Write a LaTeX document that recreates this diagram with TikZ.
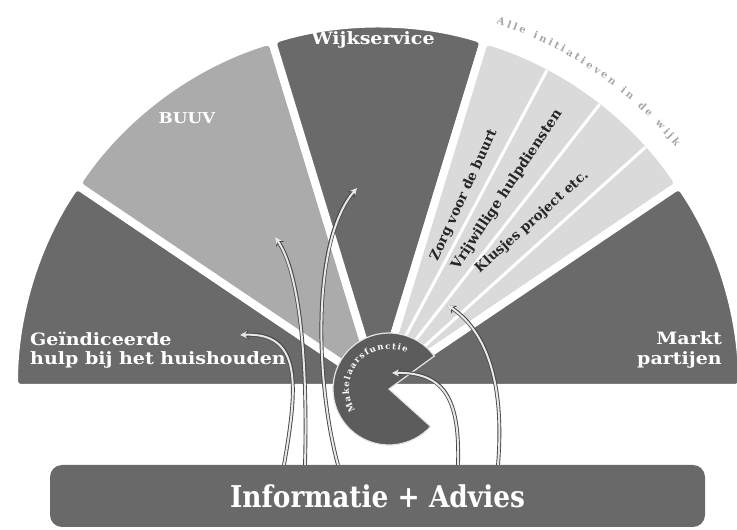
\documentclass[tikz,border=0pt]{standalone}
\usepackage{fontspec}
\setmainfont{DejaVu Serif}
\newfontfamily\heavy{DejaVu Serif}[FakeStretch=1.12]
\newfontfamily\narrow{DejaVu Serif}[FakeStretch=0.88]
\usetikzlibrary{arrows.meta,decorations.text}
\definecolor{darksec}{HTML}{6A6A6A}
\definecolor{midsec}{HTML}{ABABAB}
\definecolor{lightsec}{HTML}{DADADA}
\definecolor{circfill}{HTML}{5C5C5C}
\definecolor{barfill}{HTML}{696969}
\begin{document}
\begin{tikzpicture}[x=1pt,y=1pt,
  sector/.style={draw=white, line width=8pt, rounded corners=7pt, line join=round},
  lbl/.style={text=white, font=\heavy\bfseries\fontsize{17}{19.5}\selectfont, inner sep=0pt},
  striptext/.style={text=black!85, font=\bfseries\fontsize{13.5}{13.5}\selectfont, inner sep=0pt},
  flow/.style={draw=white!82!gray, line width=2pt, -{Stealth[length=7pt,width=7pt]},
    preaction={draw=gray!55!black, line width=3.8pt, -{Stealth[length=9pt,width=9pt]}}},
]
\useasboundingbox (0,0) rectangle (737,530);
\clip (0,0) rectangle (737,530);
\coordinate (C) at (378,142);
\def\R{364}
% sectors
\filldraw[sector, fill=darksec] (C) -- ++(146:\R) arc[start angle=146, end angle=180, radius=\R] -- cycle;
\filldraw[sector, fill=midsec] (C) -- ++(107:\R) arc[start angle=107, end angle=146, radius=\R] -- cycle;
\filldraw[sector, fill=darksec] (C) -- ++(73:\R) arc[start angle=73, end angle=107, radius=\R] -- cycle;
\filldraw[sector, fill=lightsec] (C) -- ++(34:\R) arc[start angle=34, end angle=73, radius=\R] -- cycle;
\filldraw[sector, fill=darksec] (C) -- ++(0:\R) arc[start angle=0, end angle=34, radius=\R] -- cycle;
\foreach \a in {42,52,62} \draw[white, line width=3pt] (C) -- ++(\a:\R-4);
% faint arc text
\path[decorate, decoration={text along path, text color=gray!70,
  text={|\bfseries\fontsize{10}{10}\selectfont|Alle initiatieven in de wijk}, text align={fit to path}}]
  ([shift={(72:383)}]C) arc[start angle=72, end angle=39, radius=383];
% labels
\node[lbl] (wijk) at (373,490) {Wijkservice};
\node[lbl, font=\heavy\bfseries\fontsize{15}{15}\selectfont] (buuv) at (187,412) {BUUV};
\node[lbl, anchor=west, align=left] (geind) at (30,180) {Geïndiceerde\\hulp bij het huishouden};
\node[lbl, anchor=east, align=right] (markt) at (722,180) {Markt\\partijen};
\node[striptext, rotate=65.5] (zorg) at (464,335) {Zorg voor de buurt};
\node[striptext, rotate=56.5, font=\bfseries\fontsize{14}{14}\selectfont] (vrijw) at (507,340) {Vrijwillige hulpdiensten};
\node[striptext, rotate=41.5] (klus) at (532,308) {Klusjes project etc.};
% makelaarsfunctie circle
\coordinate (mk) at (389,141);
\filldraw[fill=circfill, draw=white!80!gray, line width=1.2pt] (mk) -- ++(36:56) arc[start angle=36, end angle=318, radius=56] -- cycle;
\path[decorate, decoration={text along path, text color=white,
  text={|\bfseries\fontsize{8.5}{8.5}\selectfont|Makelaarsfunctie}, text align={fit to path}}]
  ([shift={(213:40)}]mk) arc[start angle=213, end angle=64, radius=40];
% bottom bar
\node[fill=barfill, rounded corners=12pt, minimum width=655pt, minimum height=62pt, inner sep=0pt,
  text=white, font=\narrow\bfseries\fontsize{30}{30}\selectfont] (info) at (377.5,34) {Informatie + Advies};
% arrows
\coordinate (a0) at (284,65); \coordinate (a1) at (240,195);
\coordinate (b0) at (305,65); \coordinate (b1) at (275,293);
\coordinate (c0) at (338,65); \coordinate (c1) at (357,342);
\coordinate (d0) at (458,65); \coordinate (d1) at (392,157);
\coordinate (e0) at (498,65); \coordinate (e1) at (447,225);
\draw[flow] (a0) .. controls (298,145) and (302,198) .. (a1);
\draw[flow] (b0) .. controls (308,180) and (298,260) .. (b1);
\draw[flow] (c0) .. controls (315,150) and (312,290) .. (c1);
\draw[flow] (d0) .. controls (460,130) and (445,158) .. (d1);
\draw[flow] (e0) .. controls (505,150) and (485,200) .. (e1);
\end{tikzpicture}
\end{document}
